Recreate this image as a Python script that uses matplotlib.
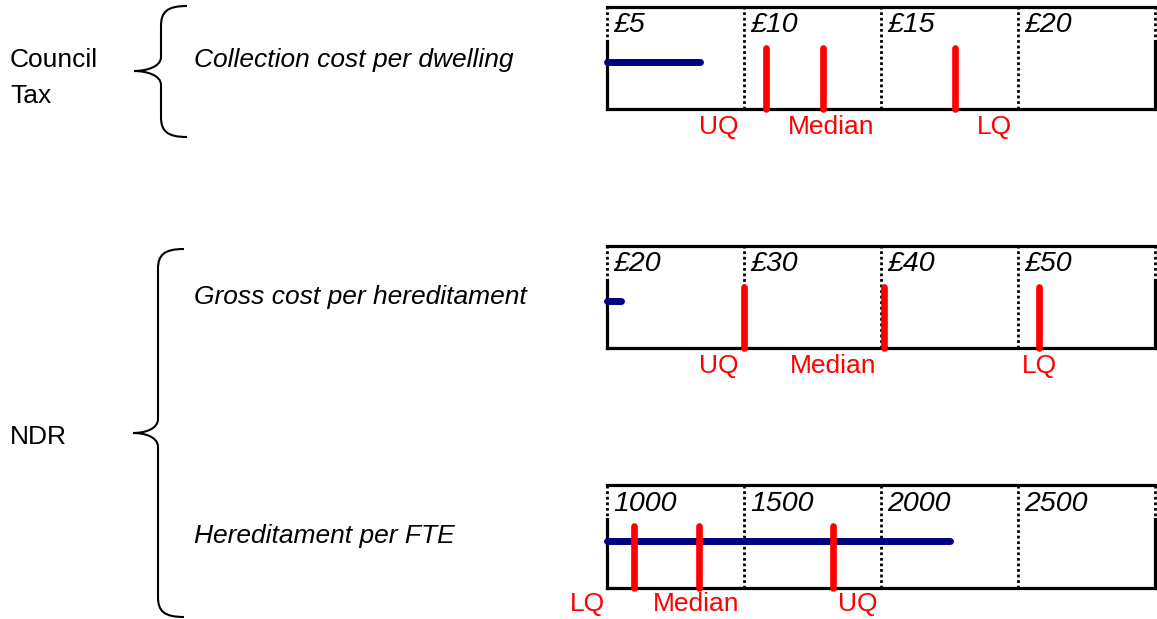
import matplotlib.pyplot as plt
from matplotlib.path import Path
from matplotlib.patches import PathPatch

plt.rcParams['font.family'] = ['Liberation Sans', 'DejaVu Sans']

# data
groups = ["Council\nTax", "NDR"]
measures = ["Collection cost per dwelling", "Gross cost per hereditament", "Hereditament per FTE"]
actual = [8.4, 21.0, 2250]
uq = [10.8, 30.0, 1825]
median = [12.9, 40.2, 1335]
lq = [17.7, 51.5, 1100]
tick_values = [[5, 10, 15, 20, 25], [20, 30, 40, 50, 60], [1000, 1500, 2000, 2500, 3000]]
tick_labels = [["£5", "£10", "£15", "£20"], ["£20", "£30", "£40", "£50"], ["1000", "1500", "2000", "2500"]]

W, H = 1157, 619
fig = plt.figure(figsize=(W / 100, H / 100), dpi=100)

# background axes in pixel coords for braces and row labels
bg = fig.add_axes([0, 0, 1, 1])
bg.set_xlim(0, W)
bg.set_ylim(H, 0)
bg.axis('off')


def brace(ax, x_tip, x_end, y_top, y_bot, y_mid, r=26):
    xv = x_end - r
    verts = [(x_end, y_top), (xv + 6, y_top), (xv, y_top + 6), (xv, y_top + 20),
             (xv, y_mid - 14),
             (xv, y_mid - 4), (x_tip + 12, y_mid), (x_tip, y_mid),
             (x_tip + 12, y_mid), (xv, y_mid + 4), (xv, y_mid + 14),
             (xv, y_bot - 20),
             (xv, y_bot - 6), (xv + 6, y_bot), (x_end, y_bot)]
    codes = [Path.MOVETO, Path.CURVE4, Path.CURVE4, Path.CURVE4,
             Path.LINETO,
             Path.CURVE4, Path.CURVE4, Path.CURVE4,
             Path.CURVE4, Path.CURVE4, Path.CURVE4,
             Path.LINETO,
             Path.CURVE4, Path.CURVE4, Path.CURVE4]
    ax.add_patch(PathPatch(Path(verts, codes), fill=False, lw=1.5, color='black'))


brace(bg, 134, 187, 6, 137, 71)
brace(bg, 133, 184, 249, 617, 433)

fs = 19
bg.text(10, 78, groups[0], fontsize=fs, va='center', ha='left', linespacing=1.6)
bg.text(10, 437, groups[1], fontsize=fs, va='center', ha='left')

row_y = [60, 297, 536]
for name, y in zip(measures, row_y):
    bg.text(194, y, name, fontsize=fs, style='italic', va='center', ha='left')

# panel boxes (top, bottom in pixels)
boxes = [(7, 109), (246, 348), (485, 588)]
left_px, right_px = 607, 1155
# quartile label offsets in pixels from their line
quart_names = ["UQ", "Median", "LQ"]
label_dx = [[-47, 8, 39], [-25, -51, 1], [25, -3, -47]]
label_dy = [18, 18, 16]

for i, (top, bot) in enumerate(boxes):
    ax = fig.add_axes([left_px / W, 1 - bot / H, (right_px - left_px) / W, (bot - top) / H])
    ticks = tick_values[i]
    ax.set_xlim(ticks[0], ticks[-1])
    ax.set_ylim(0, 1)
    ax.set_xticks([])
    ax.set_yticks([])
    for s in ['left', 'right']:
        ax.spines[s].set_visible(False)
    for s in ['top', 'bottom']:
        ax.spines[s].set_linewidth(2.3)

    for t in ticks:
        ax.axvline(t, color='black', lw=2, linestyle=(0, (1, 1)), clip_on=False)
    for t in (ticks[0], ticks[-1]):
        ax.axvline(t, ymin=0, ymax=0.67, color='black', lw=2.3, clip_on=False)
    for t, lab in zip(ticks, tick_labels[i]):
        ax.annotate(lab, (t, 0.82), xycoords=('data', 'axes fraction'),
                    xytext=(4.5, 0), textcoords='offset points',
                    fontsize=20.5, style='italic', va='center', ha='left')

    ax.plot([ticks[0], actual[i]], [0.46, 0.46], color='#000080', lw=5,
            solid_capstyle='round', clip_on=False, zorder=3)

    vals = [uq[i], median[i], lq[i]]
    for v, name, dx in zip(vals, quart_names, label_dx[i]):
        ax.plot([v, v], [0, 0.6], color='red', lw=4.8, solid_capstyle='round',
                clip_on=False, zorder=4)
        ax.annotate(name, (v, 0), xycoords=('data', 'axes fraction'),
                    xytext=(dx / 1.389, -label_dy[i] / 1.389), textcoords='offset points',
                    fontsize=fs, color='red', ha='center', va='center', annotation_clip=False)

fig.savefig('out.png', dpi=100)
